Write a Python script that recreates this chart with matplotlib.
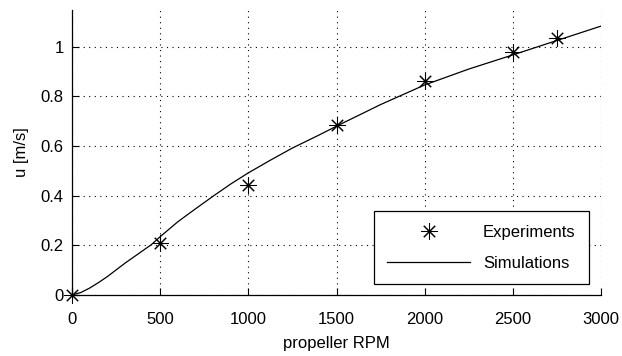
"""Propeller RPM vs. flow speed: experiments against simulation."""

import matplotlib

matplotlib.use("Agg")

import matplotlib.pyplot as plt

# experimental points
exp_rpm = [0, 500, 1000, 1500, 2000, 2500, 2750]
exp_u = [0.0, 0.208, 0.443, 0.685, 0.862, 0.977, 1.036]

# simulation curve
sim_rpm = [0, 50, 100, 150, 200, 250, 300, 350, 400, 450, 500, 600, 700, 800,
           900, 1000, 1125, 1250, 1400, 1500, 1750, 2000, 2250, 2500, 2750, 3000]
sim_u = [0.0, 0.01, 0.028, 0.05, 0.074, 0.101, 0.128, 0.153, 0.178, 0.203, 0.235,
         0.295, 0.347, 0.398, 0.447, 0.492, 0.543, 0.592, 0.644, 0.680, 0.767,
         0.846, 0.910, 0.967, 1.025, 1.083]

x_ticks = [0, 500, 1000, 1500, 2000, 2500, 3000]
y_ticks = [0, 0.2, 0.4, 0.6, 0.8, 1.0]
y_labels = ["0", "0.2", "0.4", "0.6", "0.8", "1"]

plt.rcParams["font.family"] = ["Liberation Sans", "DejaVu Sans"]

fig = plt.figure(figsize=(6.22, 3.56), dpi=100)
ax = fig.add_axes([0.1158, 0.1713, 0.8504, 0.8007])

ax.plot(exp_rpm, exp_u, linestyle="none", marker=(8, 2, 0), markersize=11.5,
        markeredgewidth=0.75, color="black", label="Experiments", zorder=3,
        clip_on=False)
ax.plot(sim_rpm, sim_u, color="black", linewidth=0.9, label="Simulations", zorder=2)

ax.set_xlim(0, 3000)
ax.set_ylim(0, 1.148)
ax.set_xticks(x_ticks)
ax.set_yticks(y_ticks)
ax.set_yticklabels(y_labels)
ax.grid(True, linestyle=(0, (1, 4)), color="black", linewidth=0.8)

for side in ("top", "right"):
    ax.spines[side].set_visible(False)
ax.spines["left"].set_linewidth(0.9)
ax.spines["bottom"].set_linewidth(0.9)
ax.tick_params(direction="in", length=5, width=0.8, labelsize=12, colors="black")
ax.tick_params(axis="x", pad=12)
ax.tick_params(axis="y", pad=6)

ax.set_xlabel("propeller RPM", fontsize=12, labelpad=7)
ax.set_ylabel("u [m/s]", fontsize=12, labelpad=8)

leg = ax.legend(loc="lower right", bbox_to_anchor=(0.977, 0.039), borderaxespad=0,
                fontsize=12, frameon=True, fancybox=False, edgecolor="black",
                framealpha=1, handlelength=5.0, borderpad=0.8, labelspacing=0.95,
                handletextpad=0.75)
leg.get_frame().set_linewidth(0.9)

fig.savefig("out.png", dpi=100, facecolor="white")
